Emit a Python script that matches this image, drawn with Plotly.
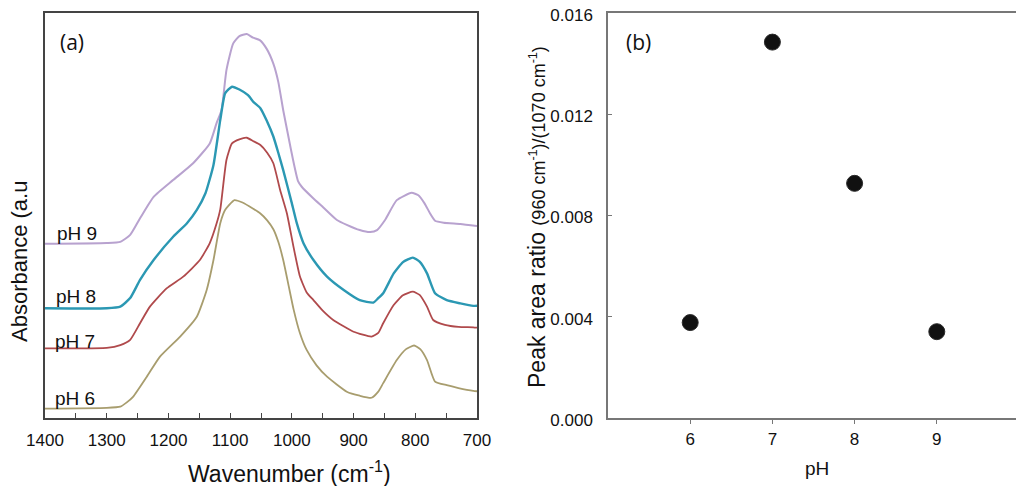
import plotly.graph_objects as go

# (a) FTIR spectra, offset per pH (arbitrary units)
wn_ph9 = [1400, 1300, 1278, 1262, 1246, 1224, 1192, 1160, 1133, 1122, 1114, 1106, 1095,
          1085, 1073, 1063, 1052, 1041, 1030, 1022, 1014, 1005, 998, 990, 984, 965, 949,
          927, 911, 890, 873, 862, 849, 830, 806, 795, 785, 776, 768, 754, 727, 700]
abs_ph9 = [43.0, 43.2, 43.5, 45.2, 49.3, 54.6, 58.8, 62.9, 67.8, 72.8, 76.0, 85.9, 92.5,
           94.3, 94.8, 93.9, 93.3, 91.2, 87.5, 83.0, 76.0, 69.0, 63.7, 58.5, 57.1, 54.2, 52.0,
           48.9, 47.7, 46.4, 45.9, 46.4, 48.9, 53.8, 55.6, 55.0, 53.0, 50.5, 48.7, 48.2, 47.9, 47.4]

wn_ph8 = [1400, 1300, 1278, 1262, 1246, 1224, 1192, 1170, 1154, 1140, 1127, 1116, 1108,
          1097, 1085, 1071, 1062, 1051, 1041, 1030, 1022, 1014, 1000, 992, 981, 965, 943,
          916, 890, 868, 860, 852, 835, 820, 804, 793, 781, 768, 749, 727, 706, 700]
abs_ph8 = [27.1, 27.1, 27.5, 29.6, 34.1, 39.0, 44.8, 48.1, 51.4, 55.5, 62.5, 73.6, 80.2,
           81.8, 81.1, 79.7, 78.0, 76.5, 73.5, 69.5, 65.5, 61.2, 53.0, 48.1, 43.1, 39.0, 34.9,
           31.6, 29.1, 28.5, 29.6, 30.8, 35.7, 38.5, 39.6, 38.6, 35.7, 30.8, 29.1, 28.3, 27.7, 27.7]

wn_ph7 = [1400, 1300, 1278, 1262, 1246, 1230, 1203, 1176, 1149, 1133, 1122, 1116, 1106,
          1097, 1085, 1073, 1063, 1051, 1040, 1030, 1019, 1008, 997, 987, 976, 965, 950,
          933, 900, 871, 860, 852, 835, 820, 804, 793, 781, 771, 752, 730, 706, 700]
abs_ph7 = [17.2, 17.3, 18.0, 19.3, 23.4, 27.5, 32.0, 34.9, 39.0, 43.2, 48.0, 51.5, 63.7,
           67.8, 68.8, 69.2, 68.4, 67.4, 65.5, 62.9, 56.3, 50.5, 42.0, 35.0, 31.0, 29.1, 26.5,
           24.2, 21.3, 20.1, 21.0, 23.4, 27.9, 30.3, 31.2, 30.4, 27.5, 24.2, 23.0, 22.5, 22.4, 22.3]

wn_ph6 = [1400, 1300, 1278, 1268, 1257, 1235, 1214, 1181, 1154, 1138, 1127, 1116, 1108,
          1093, 1080, 1062, 1051, 1040, 1030, 1022, 1014, 1005, 997, 987, 976, 960, 943,
          911, 890, 871, 860, 852, 830, 815, 802, 792, 781, 768, 749, 730, 706, 700]
abs_ph6 = [2.3, 2.5, 2.8, 3.8, 5.3, 10.2, 15.1, 20.1, 25.0, 31.6, 39.0, 48.1, 51.4,
           53.8, 53.2, 51.6, 50.5, 48.8, 46.6, 43.5, 39.0, 32.5, 26.7, 21.0, 16.8, 13.0, 10.2,
           6.5, 5.5, 5.0, 6.5, 8.6, 14.3, 17.0, 17.9, 17.0, 14.3, 9.0, 8.1, 7.4, 6.7, 6.6]

spectra = [
    ("pH 9", wn_ph9, abs_ph9, "#b8a2cf", 2.0, 1348, 45.6),
    ("pH 8", wn_ph8, abs_ph8, "#2b98b3", 2.4, 1349, 29.9),
    ("pH 7", wn_ph7, abs_ph7, "#b04a4c", 1.8, 1352, 19.0),
    ("pH 6", wn_ph6, abs_ph6, "#a89d6e", 1.8, 1352, 4.9),
]

# (b) peak area ratio vs pH
ph_values = [6, 7, 8, 9]
peak_ratio = [0.00377, 0.01485, 0.00927, 0.00341]

# the page body adds an 8px margin, so the figure is a bit smaller and shifted
W, H, OFF = 1016, 478, 8


def px(x):
    return (x - OFF) / W


def py(y):
    return 1 - (y - OFF) / H


fig = go.Figure()

for name, wn, ab, color, width, lx, ly in spectra:
    fig.add_trace(go.Scatter(
        x=wn, y=ab, mode="lines", name=name,
        line=dict(color=color, width=width, shape="spline", smoothing=0.5),
        xaxis="x", yaxis="y", showlegend=False,
    ))
    fig.add_annotation(x=lx, y=ly, xref="x", yref="y", text=name, showarrow=False,
                       xanchor="center", yanchor="middle",
                       font=dict(family="Liberation Sans, Arial", size=19, color="#111"))

fig.add_trace(go.Scatter(
    x=ph_values, y=peak_ratio, mode="markers",
    marker=dict(size=16, color="#111111", line=dict(width=1, color="#2a2a2a")),
    xaxis="x2", yaxis="y2", showlegend=False,
))

tick_font = dict(family="Liberation Sans, Arial", size=17, color="#111")
narrow_font = dict(family="Liberation Sans Narrow, Arial Narrow, Liberation Sans", size=17, color="#111")

fig.update_layout(
    width=W, height=H,
    margin=dict(l=0, r=0, t=0, b=0),
    paper_bgcolor="white", plot_bgcolor="white",
    xaxis=dict(
        domain=[px(45), px(477)], range=[1400, 700], automargin=False,
        tickvals=[1400, 1300, 1200, 1100, 1000, 900, 800, 700],
        ticks="inside", ticklen=5, tickcolor="#444",
        minor=dict(dtick=50, ticks="inside", ticklen=5, tickcolor="#444"),
        showline=True, linecolor="#444", linewidth=2, mirror=True,
        showgrid=False, zeroline=False, tickfont=tick_font, ticklabelstandoff=6,
        ticklabeloverflow="allow",
    ),
    yaxis=dict(
        domain=[py(418), py(13)], range=[0, 100], automargin=False,
        showticklabels=False, ticks="",
        showline=True, linecolor="#444", linewidth=2, mirror=True,
        showgrid=False, zeroline=False,
    ),
    xaxis2=dict(
        domain=[px(608), px(1019)], range=[5, 10], anchor="y2", automargin=False,
        tickvals=ph_values, ticks="outside", ticklen=4, tickcolor="#777",
        showline=True, linecolor="#777", linewidth=1.5, mirror=True,
        showgrid=False, zeroline=False, ticklabelstandoff=1,
        tickfont=dict(family="Liberation Sans, Arial", size=17, color="#111"),
        ticklabeloverflow="allow",
    ),
    yaxis2=dict(
        domain=[py(418), py(13)], range=[0, 0.016], anchor="x2", automargin=False,
        tickvals=[0, 0.004, 0.008, 0.012, 0.016], tickformat=".3f",
        ticks="inside", ticklen=4, tickcolor="#777",
        showline=True, linecolor="#777", linewidth=1.5, mirror=True,
        showgrid=False, zeroline=False, tickfont=narrow_font, ticklabelstandoff=10,
        ticklabeloverflow="allow", ticklabelshift=2,
    ),
)

panel_font = dict(family="Open Sans, Noto Sans", size=21, color="#111")


def label(x, y, text, font, angle=0):
    fig.add_annotation(x=px(x), y=py(y), xref="paper", yref="paper", text=text,
                       xanchor="center", yanchor="middle", textangle=angle,
                       showarrow=False, font=font)


label(72, 42, "(a)", panel_font)
label(638, 42, "(b)", panel_font)
label(19, 262, "Absorbance (a.u",
      dict(family="Liberation Sans, Arial", size=22, color="#111"), -90)
label(289, 472, "Wavenumber (cm<sup>-1</sup>)",
      dict(family="Liberation Sans, Arial", size=23, color="#111"))
label(537, 217,
      "Peak area ratio <span style='font-size:18px'>(960 cm<sup>-1</sup>)/(1070 cm<sup>-1</sup>)</span>",
      dict(family="Liberation Sans, Arial", size=23, color="#111"), -90)
label(817, 468, "pH", dict(family="Liberation Sans, Arial", size=19, color="#111"))

fig.write_html("out.html")
